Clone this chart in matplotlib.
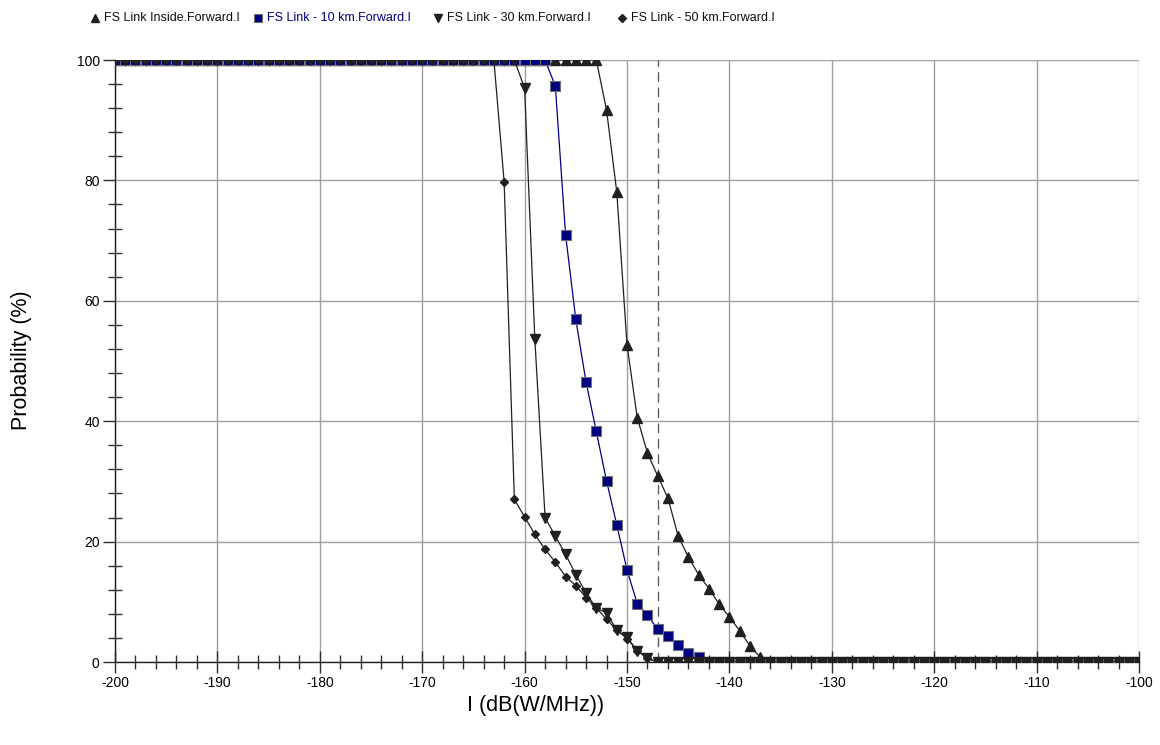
import matplotlib
matplotlib.use("Agg")
import matplotlib.pyplot as plt
from matplotlib.ticker import MultipleLocator
from matplotlib.lines import Line2D

plt.rcParams['font.family'] = ['Liberation Sans', 'DejaVu Sans']
plt.rcParams['axes.unicode_minus'] = False

# I (dB(W/MHz)) sampling grid, 1 dB steps from -200 to -100
x_db = list(range(-200, -99))

inside_y = [
    100, 100, 100, 100, 100, 100, 100, 100, 100, 100,
    100, 100, 100, 100, 100, 100, 100, 100, 100, 100,
    100, 100, 100, 100, 100, 100, 100, 100, 100, 100,
    100, 100, 100, 100, 100, 100, 100, 100, 100, 100,
    100, 100, 100, 100, 100, 100, 100, 100,
    91.7, 78.1, 52.7, 40.6, 34.7, 30.9, 27.2, 20.9, 17.4, 14.5,
    12.2, 9.6, 7.5, 5.2, 2.7, 0.8,
    0, 0, 0, 0, 0, 0, 0, 0, 0, 0,
    0, 0, 0, 0, 0, 0, 0, 0, 0, 0,
    0, 0, 0, 0, 0, 0, 0, 0, 0, 0,
    0, 0, 0, 0, 0, 0, 0,
]

km10_y = [
    100, 100, 100, 100, 100, 100, 100, 100, 100, 100,
    100, 100, 100, 100, 100, 100, 100, 100, 100, 100,
    100, 100, 100, 100, 100, 100, 100, 100, 100, 100,
    100, 100, 100, 100, 100, 100, 100, 100, 100, 100,
    100, 100, 100,
    95.7, 71.0, 56.9, 46.5, 38.3, 30.1, 22.8, 15.3, 9.7, 7.8,
    5.4, 4.3, 2.8, 1.5, 0.9,
    0, 0, 0, 0, 0, 0, 0, 0, 0, 0,
    0, 0, 0, 0, 0, 0, 0, 0, 0, 0,
    0, 0, 0, 0, 0, 0, 0, 0, 0, 0,
    0, 0, 0, 0, 0, 0, 0, 0, 0, 0,
    0, 0, 0,
]

km30_y = [
    100, 100, 100, 100, 100, 100, 100, 100, 100, 100,
    100, 100, 100, 100, 100, 100, 100, 100, 100, 100,
    100, 100, 100, 100, 100, 100, 100, 100, 100, 100,
    100, 100, 100, 100, 100, 100, 100, 100, 100, 100,
    95.3, 53.6, 24.0, 20.9, 17.9, 14.5, 11.5, 8.9, 8.2, 5.3,
    4.1, 1.9, 0.6,
    0, 0, 0, 0, 0, 0, 0, 0, 0, 0,
    0, 0, 0, 0, 0, 0, 0, 0, 0, 0,
    0, 0, 0, 0, 0, 0, 0, 0, 0, 0,
    0, 0, 0, 0, 0, 0, 0, 0, 0, 0,
    0, 0, 0, 0, 0, 0, 0, 0,
]

km50_y = [
    100, 100, 100, 100, 100, 100, 100, 100, 100, 100,
    100, 100, 100, 100, 100, 100, 100, 100, 100, 100,
    100, 100, 100, 100, 100, 100, 100, 100, 100, 100,
    100, 100, 100, 100, 100, 100, 100, 100,
    79.8, 27.0, 24.1, 21.2, 18.7, 16.6, 14.2, 12.7, 10.7, 9.0,
    7.1, 5.3, 3.9, 1.9, 0.6,
    0, 0, 0, 0, 0, 0, 0, 0, 0, 0,
    0, 0, 0, 0, 0, 0, 0, 0, 0, 0,
    0, 0, 0, 0, 0, 0, 0, 0, 0, 0,
    0, 0, 0, 0, 0, 0, 0, 0, 0, 0,
    0, 0, 0, 0, 0, 0, 0, 0,
]

series_labels = [
    "FS Link Inside.Forward.I",
    "FS Link - 10 km.Forward.I",
    "FS Link - 30 km.Forward.I",
    "FS Link - 50 km.Forward.I",
]
threshold_x = -147

x_ticks = [-200, -190, -180, -170, -160, -150, -140, -130, -120, -110, -100]
y_ticks = [0, 20, 40, 60, 80, 100]

W, H = 1160, 745
fig = plt.figure(figsize=(W / 100, H / 100), dpi=100)
ax = fig.add_axes([115 / W, 1 - 662 / H, (1139 - 115) / W, (662 - 60) / H])

dark = "#202020"
navy = "#000080"

styles = [
    dict(color=dark, marker="^", ms=6.5, mfc=dark, mec=dark, mew=1.0),
    dict(color=navy, marker="s", ms=6.5, mfc=navy, mec="#707070", mew=0.8),
    dict(color=dark, marker="v", ms=6.5, mfc=dark, mec=dark, mew=1.0),
    dict(color=dark, marker="D", ms=4.5, mfc=dark, mec=dark, mew=1.0),
]
series = [inside_y, km10_y, km30_y, km50_y]

for ys, st, lab in zip(series, styles, series_labels):
    ax.plot(x_db, ys, lw=0.9, label=lab, zorder=3, **st)

ax.axvline(threshold_x, color="#606060", lw=1.0, ls=(0, (7, 4)), zorder=2)

ax.set_xlim(-200, -100)
ax.set_ylim(0, 100)
ax.set_xticks(x_ticks)
ax.set_yticks(y_ticks)
ax.xaxis.set_minor_locator(MultipleLocator(2))
ax.yaxis.set_minor_locator(MultipleLocator(4))

ax.grid(True, which="major", color="#a0a0a0", lw=1.0, zorder=0)
ax.set_axisbelow(True)

for s in ["top", "right"]:
    ax.spines[s].set_visible(False)
for s in ["left", "bottom"]:
    ax.spines[s].set_color("#202020")
    ax.spines[s].set_linewidth(1.0)
    ax.spines[s].set_zorder(2.5)

ax.tick_params(axis="x", which="major", direction="inout", length=16, width=1,
               color="#303030", labelsize=10, pad=2)
ax.tick_params(axis="x", which="minor", direction="inout", length=10, width=1,
               color="#303030")
ax.tick_params(axis="y", which="major", direction="out", length=9, width=1,
               color="#303030", labelsize=10, pad=2)
ax.tick_params(axis="y", which="minor", direction="inout", length=10, width=1,
               color="#303030")

fig.text(536 / W, 1 - 706 / H, "I (dB(W/MHz))", fontsize=15.5,
         ha="center", va="center")
fig.text(22 / W, 1 - 360 / H, "Probability (%)", fontsize=15.5,
         ha="center", va="center", rotation=90)

# legend row drawn entry by entry
legend_marker_px = [95, 258, 438, 622]
legend_y = 1 - 18 / H
text_colors = ["#101010", navy, "#101010", "#101010"]
for mx, st, lab, tc in zip(legend_marker_px, styles, series_labels, text_colors):
    fig.add_artist(Line2D([mx / W], [legend_y], transform=fig.transFigure,
                          linestyle="None", marker=st["marker"],
                          markersize=st["ms"] * 0.9, markerfacecolor=st["mfc"],
                          markeredgecolor=st["mec"], markeredgewidth=st["mew"]))
    fig.text((mx + 9) / W, legend_y, lab, fontsize=9, color=tc,
             ha="left", va="center")

fig.savefig("out.png", dpi=100)
